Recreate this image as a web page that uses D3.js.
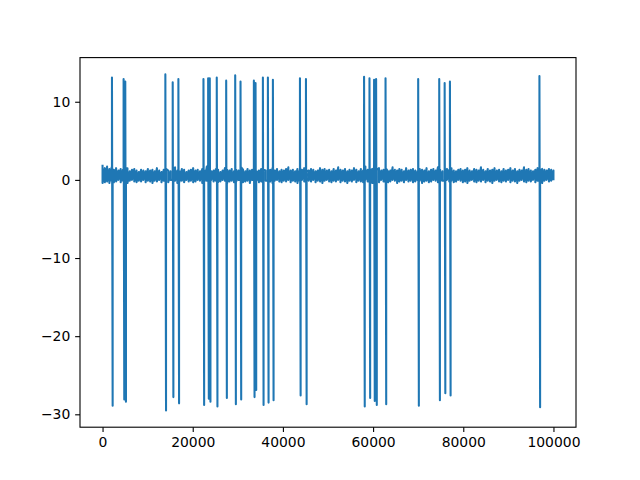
<!DOCTYPE html>
<html lang="en">
<head>
<meta charset="utf-8">
<script src="https://d3js.org/d3.v7.min.js"></script>
<style>
  html, body { margin: 0; padding: 0; background: #ffffff; }
  .axis text { font: 13.9px "DejaVu Sans", sans-serif; fill: #000; }
  .axis line { stroke: #000; stroke-width: 1.1; }
  .axis path { display: none; }
</style>
</head>
<body>
<script>
var noiseHi = [
  1.8,1.5,1.7,1.4,1.6,1.3,1.5,1.2,1.4,1.3,1.2,1.5,1.1,1.3,1.4,1.2,1.0,1.3,1.2,1.1,
  1.4,1.2,1.3,1.1,1.5,1.2,1.0,1.3,1.4,1.2,1.1,1.3,1.6,1.2,1.1,1.4,1.3,1.0,1.2,1.3,
  1.5,1.2,1.3,1.1,1.4,1.2,1.7,1.3,1.1,1.2,1.4,1.3,1.0,1.2,1.5,1.3,1.2,1.4,1.1,1.3,
  1.2,1.6,1.3,1.1,1.4,1.2,1.3,1.5,1.1,1.2,1.4,1.3,1.2,1.0,1.3,1.5,1.2,1.4,1.1,1.3,
  1.2,1.4,1.6,1.2,1.3,1.1,1.4,1.2,1.3,1.5,1.1,1.2,1.4,1.3,1.1,1.2,1.5,1.3,1.4,1.2,
  1.3,1.1,1.4,1.2,1.6,1.3,1.2,1.4,1.1,1.3,1.2,1.5,1.3,1.1,1.4,1.2,1.7,1.3,1.2,1.4,
  1.1,1.3,1.5,1.2,1.3,1.4,1.1,1.2,1.6,1.3,1.2,1.4,1.3,1.1,1.5,1.2,1.3,1.4,1.2,1.1,
  1.4,1.3,1.2,1.5,1.1,1.3,1.4,1.2,1.6,1.3,1.1,1.2,1.4,1.3,1.5,1.2,1.1,1.3,1.4,1.2,
  1.3,1.5,1.2,1.1,1.4,1.3,1.2,1.6,1.3,1.1,1.4,1.2,1.3,1.5,1.2,1.3,1.1,1.4,1.2,1.3,
  1.5,1.2,1.4,1.1,1.3,1.2,1.6,1.3,1.4,1.2,1.1,1.3,1.5,1.2,1.4,1.3,1.2,1.4,1.3,1.2
];
var noiseLo = [
  -0.4,-0.3,-0.2,-0.4,-0.1,-0.3,-0.2,0.0,-0.3,-0.1,-0.2,-0.4,-0.1,0.0,-0.2,-0.3,-0.1,-0.2,0.0,-0.3,
  -0.1,-0.2,-0.4,-0.1,-0.2,0.0,-0.3,-0.1,-0.2,-0.3,0.0,-0.2,-0.1,-0.4,-0.2,-0.1,-0.3,0.0,-0.2,-0.1,
  -0.3,-0.2,0.0,-0.1,-0.4,-0.2,-0.1,-0.3,0.0,-0.2,-0.1,-0.3,-0.2,0.0,-0.1,-0.4,-0.2,-0.1,-0.3,-0.2,
  0.0,-0.1,-0.3,-0.2,-0.1,-0.4,0.0,-0.2,-0.1,-0.3,-0.2,0.0,-0.1,-0.3,-0.2,-0.4,-0.1,0.0,-0.2,-0.3,
  -0.1,-0.2,0.0,-0.3,-0.1,-0.2,-0.4,-0.1,0.0,-0.2,-0.3,-0.1,-0.2,0.0,-0.3,-0.1,-0.2,-0.4,-0.1,0.0,
  -0.2,-0.3,-0.1,-0.2,0.0,-0.3,-0.1,-0.2,-0.4,-0.1,-0.2,0.0,-0.3,-0.1,-0.2,-0.3,0.0,-0.2,-0.1,-0.4,
  -0.2,-0.1,-0.3,0.0,-0.2,-0.1,-0.3,-0.2,0.0,-0.1,-0.4,-0.2,-0.1,-0.3,0.0,-0.2,-0.1,-0.3,-0.2,0.0,
  -0.1,-0.4,-0.2,-0.1,-0.3,-0.2,0.0,-0.1,-0.3,-0.2,-0.1,-0.4,0.0,-0.2,-0.1,-0.3,-0.2,0.0,-0.1,-0.3,
  -0.2,-0.4,-0.1,0.0,-0.2,-0.3,-0.1,-0.2,0.0,-0.3,-0.1,-0.2,-0.4,-0.1,0.0,-0.2,-0.3,-0.1,-0.2,0.0,
  -0.3,-0.1,-0.2,-0.4,-0.1,0.0,-0.2,-0.3,-0.1,-0.2,0.0,-0.3,-0.1,-0.2,-0.4,-0.1,0.0,-0.2,-0.1,0.1
];
var noiseStart = 0, noiseEnd = 100000;

// spikes: start sample, peak value, trough value (trough reached ~150 samples later)
var spikeX  = [2090, 4670, 5040, 13930, 15560, 16820, 22380, 23420, 23780, 25330,
               27420, 29420, 30600, 33560, 33930, 35560, 36670, 37780, 43780, 45110,
               58000, 59200, 60220, 60670, 62760, 70000, 74670, 75870, 77040, 96890];
var spikeHi = [13.1, 12.9, 12.6, 13.5, 12.5, 12.9, 12.9, 13.0, 13.0, 13.1,
               12.7, 13.4, 12.6, 12.7, 12.4, 13.1, 13.1, 12.8, 13.0, 12.9,
               13.2, 13.0, 12.8, 12.9, 13.0, 12.9, 12.9, 12.4, 12.6, 13.3];
var spikeLo = [-28.9, -28.1, -28.4, -29.5, -27.8, -28.6, -28.8, -28.0, -28.4, -29.0,
               -27.9, -28.7, -28.1, -27.8, -26.9, -28.8, -28.5, -28.2, -27.6, -28.7,
               -29.0, -27.9, -28.3, -28.8, -28.7, -28.9, -28.2, -27.3, -27.6, -29.1];
var spikeLen = 150;

var xTicks = [0, 20000, 40000, 60000, 80000, 100000];
var yTicks = [-30, -20, -10, 0, 10];

var W = 640, H = 480;
var margin = {left: 80, right: 64, top: 57.6, bottom: 52.8};
var pw = W - margin.left - margin.right, ph = H - margin.top - margin.bottom;

function inSpike(xv) {
  return spikeX.some(function(s) { return xv >= s - 2 && xv <= s + spikeLen + 3; });
}

// build series: each noise step contributes its high then its low sample
var step = (noiseEnd - noiseStart) / (noiseHi.length - 1);
var pts = [];
noiseHi.forEach(function(v, i) {
  var xi = noiseStart + i * step;
  if (!inSpike(xi)) pts.push([xi, v]);
  var xl = Math.min(xi + 1, noiseEnd);
  if (!inSpike(xl)) pts.push([xl, noiseLo[i]]);
});
// each spike sits in the baseline: neighbour sample, peak, trough, neighbour sample
spikeX.forEach(function(x, i) {
  var k = Math.floor((x - noiseStart) / step);
  pts.push([x - 1, noiseLo[k]]);
  pts.push([x, spikeHi[i]]);
  pts.push([x + spikeLen, spikeLo[i]]);
  pts.push([x + spikeLen + 2, noiseHi[Math.min(k + 1, noiseHi.length - 1)]]);
});
pts.sort(function(a, b) { return a[0] - b[0]; });

var xMin = d3.min(pts, function(d) { return d[0]; }), xMax = d3.max(pts, function(d) { return d[0]; });
var yMin = d3.min(pts, function(d) { return d[1]; }), yMax = d3.max(pts, function(d) { return d[1]; });
var xPad = (xMax - xMin) * 0.05, yPad = (yMax - yMin) * 0.05;

var x = d3.scaleLinear().domain([xMin - xPad, xMax + xPad]).range([0, pw]);
var y = d3.scaleLinear().domain([yMin - yPad, yMax + yPad]).range([ph, 0]);

var svg = d3.select("body").append("svg")
    .attr("width", W).attr("height", H);
var g = svg.append("g")
    .attr("transform", "translate(" + margin.left + "," + margin.top + ")");

g.append("clipPath").attr("id", "clip")
  .append("rect").attr("width", pw).attr("height", ph);

var line = d3.line()
    .x(function(d) { return x(d[0]); })
    .y(function(d) { return y(d[1]); });

g.append("path")
    .datum(pts)
    .attr("clip-path", "url(#clip)")
    .attr("d", line)
    .attr("fill", "none")
    .attr("stroke", "#1f77b4")
    .attr("stroke-width", 2.08)
    .attr("stroke-linejoin", "round")
    .attr("stroke-linecap", "square");

g.append("g")
    .attr("class", "axis")
    .attr("transform", "translate(0," + ph + ")")
    .call(d3.axisBottom(x).tickValues(xTicks).tickFormat(d3.format("d"))
      .tickSize(4.86).tickPadding(4.86).tickSizeOuter(0));

g.append("g")
    .attr("class", "axis")
    .call(d3.axisLeft(y).tickValues(yTicks).tickFormat(d3.format("d"))
      .tickSize(4.86).tickPadding(4.86).tickSizeOuter(0));

g.append("rect")
    .attr("width", pw).attr("height", ph)
    .attr("fill", "none")
    .attr("stroke", "#000")
    .attr("stroke-width", 1.1);
</script>
</body>
</html>
